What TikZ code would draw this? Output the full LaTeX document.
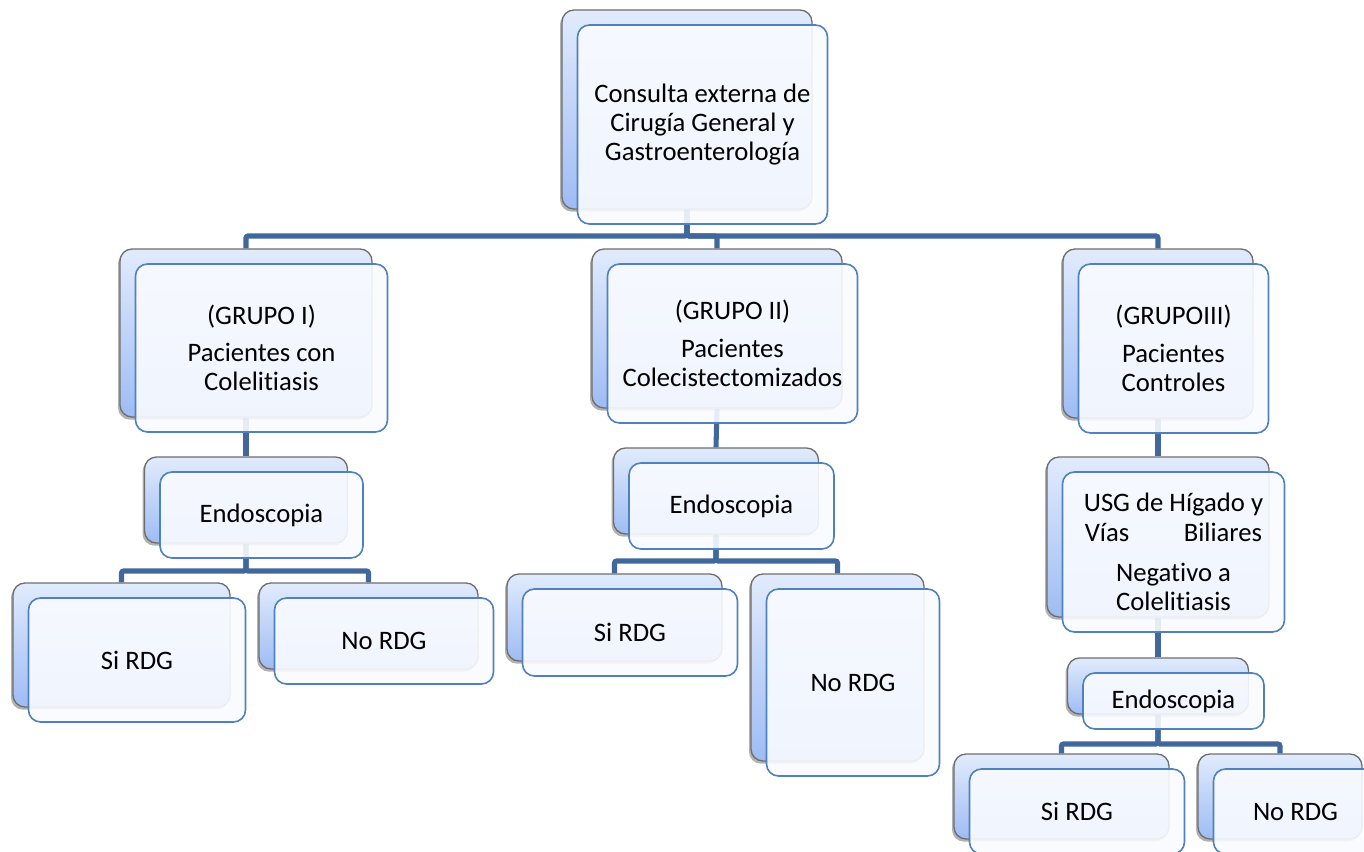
\documentclass[tikz,border=0pt]{standalone}
\usepackage{fontspec}
\setmainfont{Carlito}[Ligatures=NoCommon]
\usetikzlibrary{backgrounds,shadows}
\definecolor{conncol}{RGB}{64,104,156}
\definecolor{frontline}{RGB}{79,129,189}
\definecolor{frontfill}{RGB}{249,251,255}
\definecolor{backtop}{RGB}{225,235,252}
\definecolor{backbot}{RGB}{158,188,244}
\definecolor{backline}{RGB}{110,110,110}
\newcommand\pairbox[6]{%
 \node[backbox, minimum width=#4*0.75pt, minimum height=#5*0.75pt] (#1b) at (#2,#3) {};
 \node[frontbox, minimum width=#4*0.75pt, minimum height=#5*0.75pt] (#1) at (#2+15.5,#3+15) {#6};}
\begin{document}
\begin{tikzpicture}[x=0.75pt,y=-0.75pt,
 backbox/.style={draw=backline, line width=1pt, rounded corners=9pt, top color=backtop, bottom color=backbot,
   drop shadow={shadow xshift=-1.5pt, shadow yshift=-2pt, opacity=0.3, fill=black}, inner sep=0pt},
 frontbox/.style={draw=frontline, line width=1.2pt, rounded corners=9pt, fill=frontfill, fill opacity=0.9,
   text opacity=1, inner sep=0pt, align=center, font=\fontsize{20}{22}\selectfont},
 conn/.style={draw=conncol, line width=3.8pt, rounded corners=1.5pt}]
\useasboundingbox (0,0) rectangle (1364,852);
\pairbox{top}{687}{109.5}{250}{199}{Consulta externa de\\Cirugía General y\\Gastroenterología}
\pairbox{g1}{246}{333}{252}{168}{(GRUPO I)\\[6pt]Pacientes con\\Colelitiasis}
\pairbox{g2}{717}{328.5}{250}{159}{(GRUPO II)\\[6pt]Pacientes\\Colecistectomizados}
\pairbox{g3}{1158}{333.5}{190}{169}{(GRUPOIII)\\[6pt]Pacientes\\Controles}
\pairbox{e1}{246}{500}{203}{86}{Endoscopia}
\pairbox{e2}{716}{491}{205}{86}{Endoscopia}
\pairbox{usg}{1158}{537}{222}{160}{USG de Hígado y\\\makebox[133pt]{Vías\hfill Biliares}\\[8pt]Negativo a\\Colelitiasis}
\pairbox{e3}{1158}{686}{181}{56}{Endoscopia}
\pairbox{s1}{121.5}{645}{217}{124}{Si RDG}
\pairbox{n1}{368.5}{626}{219}{86}{No RDG}
\pairbox{s2}{614.5}{617.5}{215}{87}{Si RDG}
\pairbox{n2}{837.5}{667.5}{173}{187}{No RDG}
\pairbox{s3}{1061.5}{796.5}{215}{85}{Si RDG}
\pairbox{n3}{1280}{796.5}{164}{85}{No RDG}
\begin{pgfonlayer}{background}
\coordinate (bus0) at (0,236);
\coordinate (bus1) at (0,571);
\coordinate (bus2) at (0,561);
\coordinate (bus3) at (0,744);
\draw[conn] (topb.south) -- (topb.south |- bus0) -| (g1b.north);
\draw[conn] (topb.south) -- (topb.south |- bus0) -| (g2b.north);
\draw[conn] (topb.south) -- (topb.south |- bus0) -| (g3b.north);
\draw[conn] (g1b.south) -- (e1b.north);
\draw[conn] (g2b.south) -- (e2b.north);
\draw[conn] (g3b.south) -- (usgb.north);
\draw[conn] (usgb.south) -- (e3b.north);
\draw[conn] (e1b.south) -- (e1b.south |- bus1) -| (s1b.north);
\draw[conn] (e1b.south) -- (e1b.south |- bus1) -| (n1b.north);
\draw[conn] (e2b.south) -- (e2b.south |- bus2) -| (s2b.north);
\draw[conn] (e2b.south) -- (e2b.south |- bus2) -| (n2b.north);
\draw[conn] (e3b.south) -- (e3b.south |- bus3) -| (s3b.north);
\draw[conn] (e3b.south) -- (e3b.south |- bus3) -| (n3b.north);
\end{pgfonlayer}
\end{tikzpicture}
\end{document}
